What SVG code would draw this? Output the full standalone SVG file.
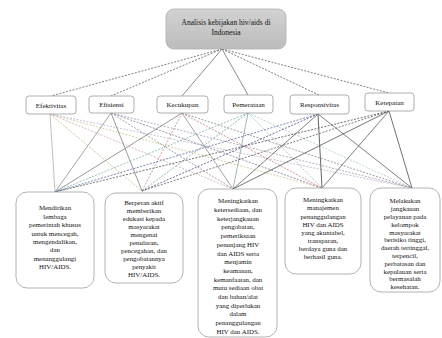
<svg xmlns="http://www.w3.org/2000/svg" width="442" height="338" viewBox="0 0 442 338">
<defs>
<linearGradient id="g" x1="0" y1="0" x2="0" y2="1"><stop offset="0" stop-color="#d2d2d2"/><stop offset="1" stop-color="#bcbcbc"/></linearGradient>
<style>
.t{font-family:"Liberation Serif","Times New Roman",serif;fill:#111;text-anchor:middle}
.top{font-size:7.5px}
.lv{font-size:7px}
.bt{font-size:6.9px}
.b2{fill:#fff;stroke:#9a9a9a;stroke-width:0.8}
.b3{fill:#fff;stroke:#a0a0a0;stroke-width:0.8}
.c line{stroke-width:0.75;fill:none}
.d{stroke-dasharray:2 1.4}
</style>
</defs>
<rect width="442" height="338" fill="#fff"/>
<g class="c" id="connectors">
<line class="d" x1="222" y1="49" x2="51" y2="96" stroke="#555"/>
<line class="d" x1="222" y1="49" x2="111" y2="96" stroke="#555"/>
<line x1="222" y1="49" x2="182" y2="96" stroke="#666"/>
<line x1="222" y1="49" x2="248" y2="95" stroke="#666"/>
<line class="d" x1="222" y1="49" x2="319" y2="95" stroke="#555"/>
<line class="d" x1="222" y1="49" x2="389" y2="93" stroke="#555"/>

<line x1="50" y1="114" x2="55" y2="192" stroke="#a8a8a8"/>
<line class="d" x1="50" y1="114" x2="142" y2="191" stroke="#c8b070"/>
<line class="d" x1="50" y1="114" x2="233" y2="189" stroke="#d8a0a0"/>
<line class="d" x1="50" y1="114" x2="322" y2="188" stroke="#c8c080"/>
<line class="d" x1="50" y1="114" x2="412" y2="188" stroke="#b8a8c8"/>

<line x1="111" y1="113" x2="55" y2="192" stroke="#888"/>
<line x1="111" y1="113" x2="142" y2="191" stroke="#777"/>
<line class="d" x1="111" y1="113" x2="233" y2="189" stroke="#9080a0"/>
<line class="d" x1="111" y1="113" x2="322" y2="188" stroke="#707090"/>
<line class="d" x1="111" y1="113" x2="412" y2="188" stroke="#a090b0"/>

<line x1="182" y1="113" x2="55" y2="192" stroke="#777"/>
<line class="d" x1="182" y1="113" x2="142" y2="191" stroke="#c08080"/>
<line x1="182" y1="113" x2="233" y2="189" stroke="#888"/>
<line class="d" x1="182" y1="113" x2="322" y2="188" stroke="#d07070"/>
<line class="d" x1="182" y1="113" x2="412" y2="188" stroke="#808080"/>

<line class="d" x1="248" y1="113" x2="55" y2="192" stroke="#70b0a0"/>
<line class="d" x1="248" y1="113" x2="142" y2="191" stroke="#60a0a0"/>
<line x1="248" y1="113" x2="233" y2="189" stroke="#80a0a0"/>
<line class="d" x1="248" y1="113" x2="322" y2="188" stroke="#90c0b0"/>
<line class="d" x1="248" y1="113" x2="412" y2="188" stroke="#a0c8c0"/>

<line class="d" x1="318" y1="114" x2="55" y2="192" stroke="#5060a0"/>
<line class="d" x1="318" y1="114" x2="142" y2="191" stroke="#404080"/>
<line x1="318" y1="114" x2="233" y2="189" stroke="#555"/>
<line x1="318" y1="114" x2="322" y2="188" stroke="#333"/>
<line x1="318" y1="114" x2="412" y2="188" stroke="#555"/>

<line class="d" x1="389" y1="111" x2="55" y2="192" stroke="#444"/>
<line class="d" x1="389" y1="111" x2="142" y2="191" stroke="#555"/>
<line x1="389" y1="111" x2="233" y2="189" stroke="#444"/>
<line x1="389" y1="111" x2="322" y2="188" stroke="#555"/>
<line x1="389" y1="111" x2="412" y2="188" stroke="#444"/>
</g>

<g id="root">
<rect x="166" y="9" width="120" height="40" rx="8" fill="url(#g)" stroke="#b0b0b0" stroke-width="0.8"/>
<text class="t top" x="226" y="24.5">Analisis kebijakan hiv/aids di</text>
<text class="t top" x="226" y="34.5">Indonesia</text>
</g>

<g id="efektivitas"><rect class="b2" x="26" y="96" width="50" height="18" rx="3"/><text class="t lv" x="51" y="107.5">Efektivitas</text></g>
<g id="efisiensi"><rect class="b2" x="89" y="96" width="45" height="17" rx="3"/><text class="t lv" x="111.5" y="107">Efisiensi</text></g>
<g id="kecukupan"><rect class="b2" x="157" y="96" width="51" height="17" rx="3"/><text class="t lv" x="182.5" y="107">Kecukupan</text></g>
<g id="pemerataan"><rect class="b2" x="224" y="95" width="49" height="18" rx="3"/><text class="t lv" x="248.5" y="106.5">Pemerataan</text></g>
<g id="responsivitas"><rect class="b2" x="290" y="95" width="59" height="19" rx="3"/><text class="t lv" x="319.5" y="107">Responsivitas</text></g>
<g id="ketepatan"><rect class="b2" x="365" y="93" width="49" height="18" rx="3"/><text class="t lv" x="389.5" y="104.5">Ketepatan</text></g>

<g id="tujuan1"><rect class="b3" x="16" y="192" width="78" height="96" rx="11"/>
<text class="t bt" x="55"><tspan x="55" y="210.3">Mendirikan</tspan><tspan x="55" y="218.7">lembaga</tspan><tspan x="55" y="227.1">pemerintah khusus</tspan><tspan x="55" y="235.5">untuk mencegah,</tspan><tspan x="55" y="243.9">mengendalikan,</tspan><tspan x="55" y="252.3">dan</tspan><tspan x="55" y="260.7">menanggulangi</tspan><tspan x="55" y="269.1">HIV/AIDS.</tspan></text></g>

<g id="tujuan2"><rect class="b3" x="105" y="193" width="78" height="90" rx="11"/>
<text class="t bt" x="144"><tspan x="144" y="204.5">Berperan aktif</tspan><tspan x="144" y="212.6">memberikan</tspan><tspan x="144" y="220.7">edukasi kepada</tspan><tspan x="144" y="228.8">masyarakat</tspan><tspan x="144" y="236.9">mengenai</tspan><tspan x="144" y="245">penularan,</tspan><tspan x="144" y="253.1">pencegahan, dan</tspan><tspan x="144" y="261.2">pengobatannya</tspan><tspan x="144" y="269.3">penyakit</tspan><tspan x="144" y="277.4">HIV/AIDS.</tspan></text></g>

<g id="tujuan3"><rect class="b3" x="198" y="189" width="79" height="148" rx="11"/>
<text class="t bt" x="238"><tspan x="238" y="203.3">Meningkatkan</tspan><tspan x="238" y="212">ketersediaan, dan</tspan><tspan x="238" y="220.7">keterjangkauan</tspan><tspan x="238" y="229.4">pengobatan,</tspan><tspan x="238" y="238.1">pemeriksaan</tspan><tspan x="238" y="246.8">penunjang HIV</tspan><tspan x="238" y="255.5">dan AIDS serta</tspan><tspan x="238" y="264.2">menjamin</tspan><tspan x="238" y="272.9">keamanan,</tspan><tspan x="238" y="281.6">kemanfaatan, dan</tspan><tspan x="238" y="290.3">mutu sediaan obat</tspan><tspan x="238" y="299">dan bahan/alat</tspan><tspan x="238" y="307.7">yang diperlukan</tspan><tspan x="238" y="316.4">dalam</tspan><tspan x="238" y="325.1">penanggulangan</tspan><tspan x="238" y="333.8">HIV dan AIDS.</tspan></text></g>

<g id="tujuan4"><rect class="b3" x="285" y="188" width="76" height="86" rx="11"/>
<text class="t bt" x="323"><tspan x="323" y="202.3">Meningkatkan</tspan><tspan x="323" y="210.4">manajemen</tspan><tspan x="323" y="218.5">penanggulangan</tspan><tspan x="323" y="226.6">HIV dan AIDS</tspan><tspan x="323" y="234.7">yang akuntabel,</tspan><tspan x="323" y="242.8">transparan,</tspan><tspan x="323" y="250.9">berdaya guna dan</tspan><tspan x="323" y="259">berhasil guna.</tspan></text></g>

<g id="tujuan5"><rect class="b3" x="370" y="188" width="70" height="104" rx="11"/>
<text class="t bt" x="405"><tspan x="405" y="203.3">Melakukan</tspan><tspan x="405" y="211.1">jangkauan</tspan><tspan x="405" y="218.9">pelayanan pada</tspan><tspan x="405" y="226.7">kelompok</tspan><tspan x="405" y="234.5">masyarakat</tspan><tspan x="405" y="242.3">berisiko tinggi,</tspan><tspan x="405" y="250.1">daerah tertinggal,</tspan><tspan x="405" y="257.9">terpencil,</tspan><tspan x="405" y="265.7">perbatasan dan</tspan><tspan x="405" y="273.5">kepulauan serta</tspan><tspan x="405" y="281.3">bermasalah</tspan><tspan x="405" y="289.1">kesehatan.</tspan></text></g>
</svg>
